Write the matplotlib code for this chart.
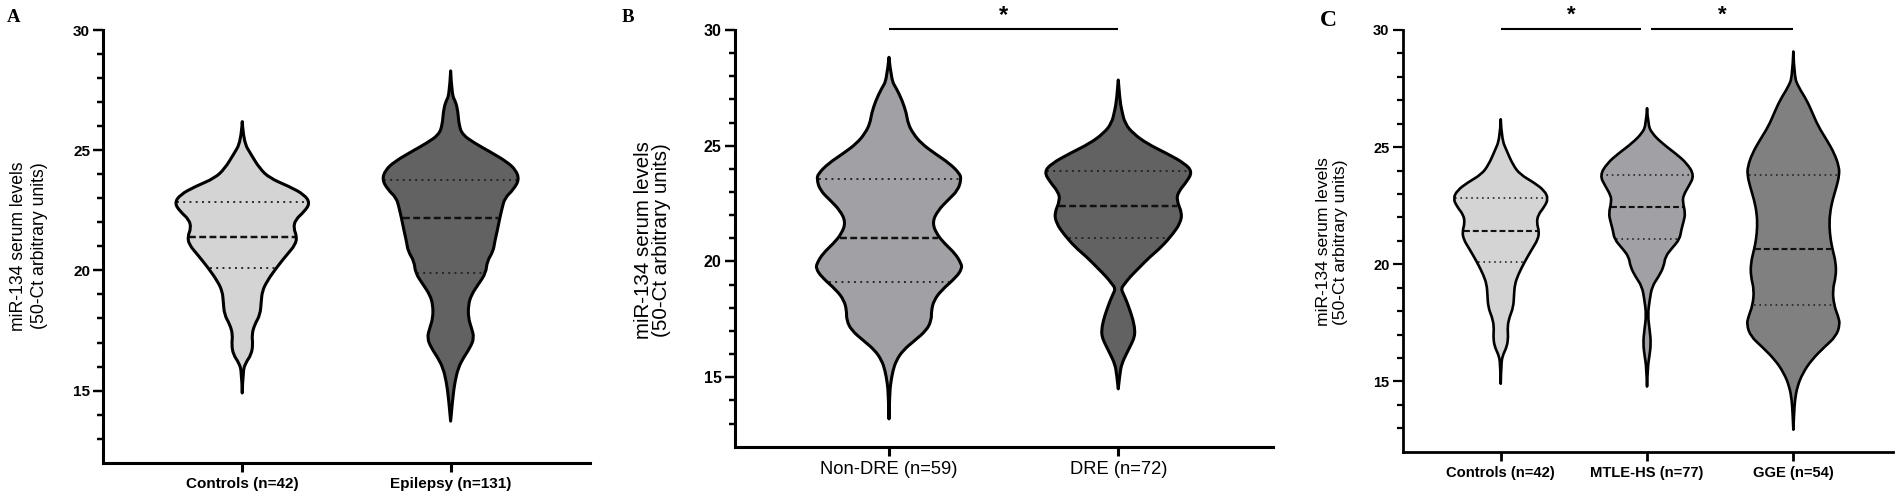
import numpy as np
import matplotlib.pyplot as plt
from matplotlib.path import Path
from matplotlib.patches import PathPatch
from matplotlib.ticker import FixedLocator

plt.rcParams['font.family'] = ['Liberation Sans', 'DejaVu Sans']

# ---- violin outlines: y level and half width (x units) ----
ctrl_y = [26.19, 25.36, 24.81, 24.25, 23.84, 23.49, 23.15, 22.80, 22.45, 22.11, 21.76,
          21.41, 21.07, 20.65, 20.10, 19.54, 19.13, 18.71, 18.16, 17.74, 17.33, 16.91,
          16.50, 16.15, 15.80, 14.90]
ctrl_w = [0, .006, .043, .083, .131, .226, .298, .325, .298, .255, .246, .262, .255,
          .214, .163, .118, .096, .091, .086, .059, .046, .051, .043, .016, .003, 0]

epi_y = [28.30, 27.30, 27.02, 26.61, 26.05, 25.64, 25.29, 24.94, 24.53, 24.18, 23.77,
         23.35, 23.01, 22.59, 22.18, 21.62, 21.21, 20.79, 20.38, 19.89, 19.41, 18.99,
         18.57, 18.02, 17.61, 17.19, 16.78, 16.36, 15.95, 15.39, 14.70, 13.73]
epi_w = [0, .006, .024, .035, .040, .057, .116, .188, .268, .313, .329, .300, .260,
         .247, .236, .223, .212, .204, .175, .169, .132, .100, .085, .085, .100, .113,
         .093, .061, .037, .021, .010, 0]

ndre_y = [28.82, 27.84, 27.48, 26.97, 26.40, 25.96, 25.53, 25.10, 24.67, 24.23, 23.80,
          23.56, 23.08, 22.65, 22.21, 21.71, 21.21, 20.77, 20.34, 19.91, 19.69, 19.33,
          18.75, 18.32, 17.89, 17.46, 17.02, 16.59, 16.16, 15.73, 15.29, 14.72, 14.28, 13.20]
ndre_w = [0, .010, .032, .057, .076, .083, .105, .141, .199, .265, .308, .315, .301,
          .257, .214, .189, .206, .243, .289, .315, .318, .294, .228, .196, .185, .185,
          .163, .112, .061, .032, .017, .007, .003, 0]

dre_y = [27.84, 26.97, 26.54, 25.96, 25.53, 25.10, 24.67, 24.23, 23.87, 23.44, 23.01,
         22.65, 22.07, 21.64, 21.21, 20.63, 20.20, 19.76, 19.33, 19.05, 18.83, 18.61,
         18.32, 17.89, 17.46, 17.02, 16.73, 16.45, 16.02, 15.58, 15.15, 14.50]
dre_w = [0, .007, .015, .029, .065, .124, .211, .291, .323, .298, .262, .254, .279,
         .269, .240, .189, .138, .094, .051, .029, .012, .022, .035, .051, .065, .073,
         .070, .058, .036, .015, .007, 0]

mtle_y = [26.66, 25.95, 25.59, 25.17, 24.74, 24.31, 23.79, 23.32, 22.96, 22.68, 22.18,
          21.82, 21.47, 21.07, 20.69, 20.33, 19.90, 19.48, 19.05, 18.48, 17.84, 17.20,
          16.63, 16.06, 15.64, 14.78]
mtle_w = [0, .007, .034, .102, .193, .273, .323, .284, .250, .243, .262, .250, .234,
          .223, .171, .125, .114, .080, .034, .018, .005, .018, .027, .016, .005, 0]

gge_y = [29.08, 28.01, 27.58, 27.01, 26.44, 25.88, 25.31, 24.74, 24.17, 23.81, 23.32,
         22.75, 22.18, 21.61, 21.04, 20.64, 20.05, 19.48, 18.91, 18.25, 17.77, 17.42,
         16.92, 16.49, 15.92, 15.35, 14.78, 14.21, 13.64, 12.94]
gge_w = [0, .007, .034, .091, .132, .171, .228, .280, .312, .314, .296, .268, .250,
         .246, .255, .268, .291, .291, .268, .278, .307, .319, .291, .216, .125, .064,
         .027, .011, .005, 0]

# quartiles (Q1, median, Q3)
ctrl_q = [20.10, 21.41, 22.83]
epi_q = [19.89, 22.18, 23.77]
ndre_q = [19.11, 21.03, 23.56]
dre_q = [21.03, 22.39, 23.90]
mtle_q = [21.07, 22.43, 23.79]
gge_q = [18.25, 20.64, 23.81]

labels_a = ['Controls (n=42)', 'Epilepsy (n=131)']
labels_b = ['Non-DRE (n=59)', 'DRE (n=72)']
labels_c = ['Controls (n=42)', 'MTLE-HS (n=77)', 'GGE (n=54)']

c_light = '#d4d4d4'
c_mid = '#a1a1a5'
c_gge = '#808080'
c_dark = '#626262'

ylab = 'miR-134 serum levels\n(50-Ct arbitrary units)'


def side(pts, first):
    # quadratic bezier through the read points, ends kept exact
    verts, codes = [], []
    if first:
        verts.append(pts[0])
        codes.append(Path.MOVETO)
    n = len(pts)
    for i in range(1, n - 1):
        if i == n - 2:
            end = pts[i + 1]
        else:
            end = ((pts[i][0] + pts[i + 1][0]) / 2, (pts[i][1] + pts[i + 1][1]) / 2)
        verts += [pts[i], end]
        codes += [Path.CURVE3, Path.CURVE3]
    return verts, codes


def violin(ax, pos, ys, ws, qs, color, lw):
    ys = np.array(ys)
    ws = np.array(ws)
    right = list(zip(pos + ws, ys))
    left = list(zip(pos - ws[::-1], ys[::-1]))
    v1, c1 = side(right, True)
    v2, c2 = side(left, False)
    path = Path(v1 + v2 + [right[0]], c1 + c2 + [Path.CLOSEPOLY])
    ax.add_patch(PathPatch(path, facecolor=color, edgecolor='none', zorder=2))
    ax.add_patch(PathPatch(path, facecolor='none', edgecolor='black', linewidth=lw,
                           joinstyle='round', zorder=4))
    for i, q in enumerate(qs):
        w = np.interp(q, ys[::-1], ws[::-1]) - 0.008
        if i == 1:
            ax.plot([pos - w, pos + w], [q, q], color='#111111', lw=lw * 0.8,
                    linestyle=(0, (2.8, 1.4)), zorder=3)
        else:
            ax.plot([pos - w, pos + w], [q, q], color='#222222', lw=lw * 0.62,
                    linestyle=(0, (1, 2.3)), zorder=3)


def style(ax, xlim, labels, ytick_size, xtick_size, xweight, lw):
    ax.set_xlim(*xlim)
    ax.set_ylim(12, 30)
    for s in ['top', 'right']:
        ax.spines[s].set_visible(False)
    for s in ['left', 'bottom']:
        ax.spines[s].set_linewidth(lw)
        ax.spines[s].set_capstyle('projecting')
    ax.set_xticks(range(len(labels)))
    ax.set_xticklabels(labels, fontsize=xtick_size, fontweight=xweight)
    ax.set_yticks([15, 20, 25, 30])
    ax.set_yticklabels(['15', '20', '25', '30'], fontsize=ytick_size, fontweight='bold')
    ax.yaxis.set_minor_locator(FixedLocator([13, 14, 16, 17, 18, 19, 21, 22, 23, 24,
                                             26, 27, 28, 29]))
    ax.tick_params(axis='y', which='major', length=7, width=lw * 0.8, pad=2.5)
    ax.tick_params(axis='y', which='minor', length=4, width=lw * 0.8)
    ax.tick_params(axis='x', which='major', length=6.5, width=lw, pad=4)


def sig(ax, x0, x1, y, ystar, size):
    ax.plot([x0, x1], [y, y], color='black', lw=1.5, clip_on=False, solid_capstyle='butt')
    ax.text((x0 + x1) / 2, ystar, '*', ha='center', va='center', fontsize=size,
            fontweight='bold', clip_on=False)


fig = plt.figure(figsize=(19.02, 5.03), dpi=100)

# ---- panel A ----
axA = fig.add_axes([0.0543, 0.0801, 0.2557, 0.8602])
violin(axA, 0, ctrl_y, ctrl_w, ctrl_q, c_light, 2.2)
violin(axA, 1, epi_y, epi_w, epi_q, c_dark, 2.2)
style(axA, (-0.667, 1.667), labels_a, 11, 11, 'bold', 2.2)
fig.text(29 / 1902, 1 - 246 / 503, ylab, rotation=90, ha='center', va='center',
         fontsize=12.7, linespacing=1.28)
fig.text(7 / 1902, 1 - 22 / 503, 'A', family='Liberation Serif', fontweight='bold',
         fontsize=13.5)

# ---- panel B ----
axB = fig.add_axes([0.3864, 0.1119, 0.2829, 0.8285])
violin(axB, 0, ndre_y, ndre_w, ndre_q, c_mid, 2.2)
violin(axB, 1, dre_y, dre_w, dre_q, c_dark, 2.2)
style(axB, (-0.672, 1.675), labels_b, 11.5, 13.2, 'normal', 2.2)
sig(axB, 0, 1, 30.03, 30.62, 17)
fig.text(652.5 / 1902, 1 - 240 / 503, ylab, rotation=90, ha='center', va='center',
         fontsize=14.8, linespacing=0.95)
fig.text(622 / 1902, 1 - 22 / 503, 'B', family='Liberation Serif', fontweight='bold',
         fontsize=13.5)

# ---- panel C ----
axC = fig.add_axes([0.7375, 0.1020, 0.2576, 0.8384])
violin(axC, 0, ctrl_y, ctrl_w, ctrl_q, c_light, 1.9)
violin(axC, 1, mtle_y, mtle_w, mtle_q, c_mid, 1.9)
violin(axC, 2, gge_y, gge_w, gge_q, c_gge, 1.9)
style(axC, (-0.67, 2.679), labels_c, 10.5, 10.6, 'bold', 2.0)
sig(axC, 0, 0.96, 30.06, 30.62, 16)
sig(axC, 1.03, 2.0, 30.06, 30.62, 16)
fig.text(1332 / 1902, 1 - 242 / 503, ylab, rotation=90, ha='center', va='center',
         fontsize=12.6, linespacing=1.1)
fig.text(1320 / 1902, 1 - 26 / 503, 'C', family='Liberation Serif', fontweight='bold',
         fontsize=17)

fig.savefig('out.png', dpi=100)
